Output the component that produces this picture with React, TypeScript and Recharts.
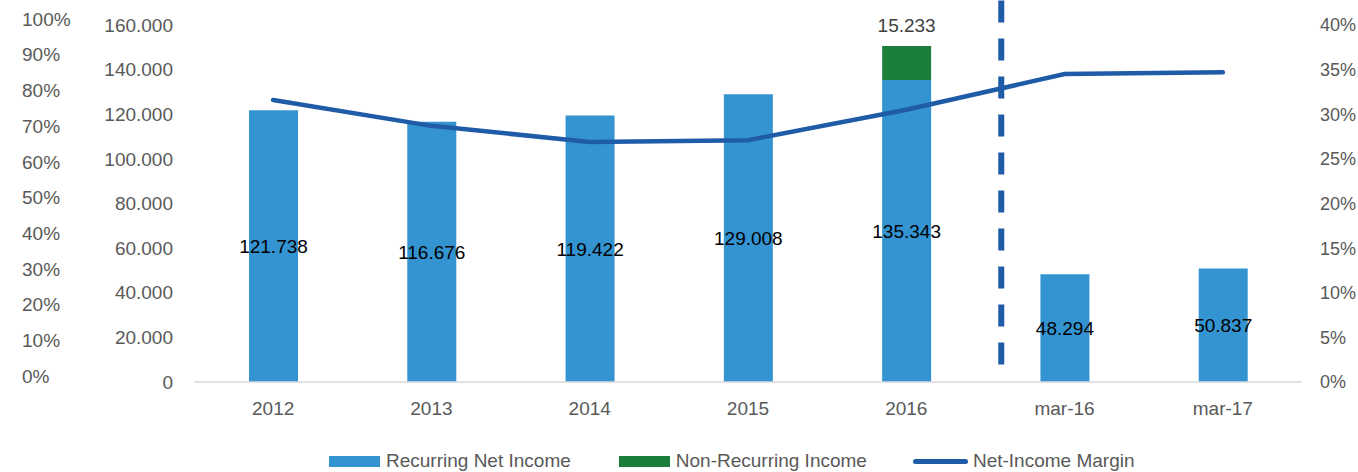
import React from 'react';
import { ComposedChart, Bar, Line, XAxis, YAxis, Legend, LabelList, ReferenceLine } from 'recharts';

const categories = ['2012', '2013', '2014', '2015', '2016', 'mar-16', 'mar-17'];
const recurringNetIncome = [121738, 116676, 119422, 129008, 135343, 48294, 50837];
const nonRecurringIncome = [null, null, null, null, 15233, null, null];
const netIncomeMargin = [0.316, 0.287, 0.269, 0.271, 0.305, 0.345, 0.347];

const incomeTicks = [0, 20000, 40000, 60000, 80000, 100000, 120000, 140000, 160000];
const marginTicks = [0, 0.05, 0.1, 0.15, 0.2, 0.25, 0.3, 0.35, 0.4];
const shareTicks = [0, 0.1, 0.2, 0.3, 0.4, 0.5, 0.6, 0.7, 0.8, 0.9, 1];

// dashed divider between the yearly and the quarterly figures (band scale 0..7)
const dividerAt = 5.1;
const dividerTop = 171000;
const dividerBottom = 7600;

const BLUE = '#3494D2';
const GREEN = '#1B7F3B';
const LINE = '#1F5BA7';
const GREY = '#595959';
const FONT = '"Liberation Sans", Arial, sans-serif';
const FS = 19;

const data = categories.map((c, i) => ({
  category: c,
  recurring: recurringNetIncome[i],
  nonRecurring: nonRecurringIncome[i],
  margin: netIncomeMargin[i],
}));

const dots = (v: any) => {
  if (v === null || v === undefined) return '';
  return Math.round(Number(v)).toString().replace(/\B(?=(\d{3})+(?!\d))/g, '.');
};
const pct = (v: any) => `${Math.round(Number(v) * 100)}%`;

const ShareTick = (props: any) => (
  <text x={22} y={props.y - 6} dy="0.355em" textAnchor="start" fill={GREY} fontSize={FS}>
    {pct(props.payload.value)}
  </text>
);

const legendItems = [
  { name: 'Recurring Net Income', color: BLUE, kind: 'rect' },
  { name: 'Non-Recurring Income', color: GREEN, kind: 'rect' },
  { name: 'Net-Income Margin', color: LINE, kind: 'line' },
];

const renderLegend = () => (
  <div style={{ display: 'flex', alignItems: 'center', height: 22, paddingLeft: 329, fontSize: FS, color: GREY }}>
    {legendItems.map((it, i) => (
      <div key={it.name} style={{ display: 'flex', alignItems: 'center', marginRight: i === 0 ? 48 : i === 1 ? 46 : 0 }}>
        {it.kind === 'rect' ? (
          <span style={{ display: 'inline-block', width: 51, height: 11, background: it.color, marginRight: 6 }} />
        ) : (
          <span style={{ display: 'inline-block', width: 55, height: 5, borderRadius: 3, background: it.color, marginRight: 5 }} />
        )}
        <span>{it.name}</span>
      </div>
    ))}
  </div>
);

export default function App() {
  return (
    <div style={{ position: 'absolute', left: 0, top: 0, fontFamily: FONT }}>
      <ComposedChart width={1358} height={472} data={data} margin={{ top: 25, right: 0, bottom: 0, left: 0 }}>
        <XAxis
          dataKey="category"
          interval={0}
          tickLine={false}
          axisLine={{ stroke: '#D9D9D9', strokeWidth: 1.5 }}
          tick={{ fill: GREY, fontSize: FS }}
          tickMargin={14}
          height={68}
        />
        <XAxis xAxisId="band" dataKey="margin" type="number" domain={[0, 7]} allowDataOverflow hide />
        <YAxis
          yAxisId="income"
          width={114}
          domain={[0, 160000]}
          ticks={incomeTicks}
          tickFormatter={dots}
          axisLine={false}
          tickLine={false}
          tickMargin={15}
          tick={{ fill: GREY, fontSize: FS }}
        />
        <YAxis
          yAxisId="share"
          width={80}
          domain={[0, 1]}
          ticks={shareTicks}
          allowDataOverflow
          axisLine={false}
          tickLine={false}
          tick={<ShareTick />}
        />
        <YAxis
          yAxisId="margin"
          orientation="right"
          width={56}
          domain={[0, 0.4]}
          ticks={marginTicks}
          tickFormatter={pct}
          axisLine={false}
          tickLine={false}
          tickMargin={12}
          tick={{ fill: GREY, fontSize: 18 }}
        />
        <Bar yAxisId="income" dataKey="recurring" name="Recurring Net Income" stackId="income" fill={BLUE} barSize={49} isAnimationActive={false}>
          <LabelList dataKey="recurring" position="center" formatter={dots} fill="#000" fontSize={FS} />
        </Bar>
        <Bar yAxisId="income" dataKey="nonRecurring" name="Non-Recurring Income" stackId="income" fill={GREEN} barSize={49} isAnimationActive={false}>
          <LabelList dataKey="nonRecurring" position="top" offset={14} formatter={dots} fill="#404040" fontSize={FS} />
        </Bar>
        <Line
          yAxisId="margin"
          dataKey="margin"
          name="Net-Income Margin"
          type="linear"
          stroke={LINE}
          strokeWidth={4.5}
          strokeLinecap="round"
          dot={false}
          activeDot={false}
          isAnimationActive={false}
        />
        <ReferenceLine
          xAxisId="band"
          yAxisId="income"
          segment={[{ x: dividerAt, y: dividerTop }, { x: dividerAt, y: dividerBottom }]}
          stroke={LINE}
          strokeWidth={6}
          strokeDasharray="22 16"
          ifOverflow="visible"
        />
        <Legend verticalAlign="bottom" content={renderLegend} wrapperStyle={{ height: 22 }} />
      </ComposedChart>
    </div>
  );
}
